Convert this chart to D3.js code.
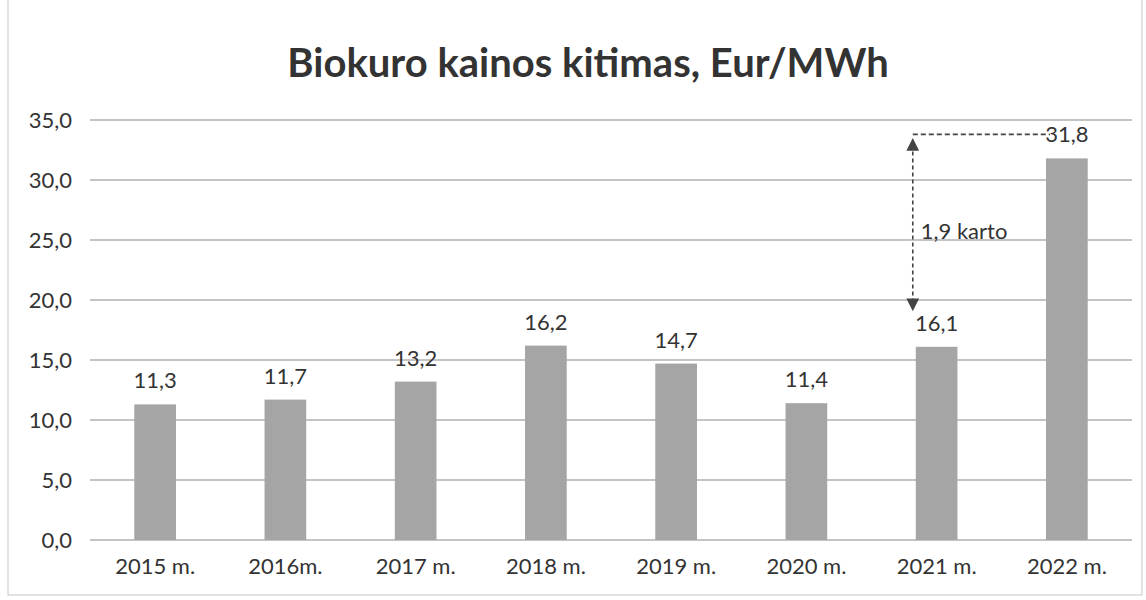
<!DOCTYPE html>
<html>
<head>
<meta charset="utf-8">
<script src="https://cdn.jsdelivr.net/npm/d3@7"></script>
<style>
  body { margin: 0; background: #fff; }
  text { font-family: Lato, "Open Sans", sans-serif; fill: #333; }
</style>
</head>
<body>
<div id="chart"></div>
<script>
// data
var years = ["2015 m.", "2016m.", "2017 m.", "2018 m.", "2019 m.", "2020 m.", "2021 m.", "2022 m."];
var prices = [11.3, 11.7, 13.2, 16.2, 14.7, 11.4, 16.1, 31.8];
var yTicks = [0, 5, 10, 15, 20, 25, 30, 35];
var ratioLabel = "1,9 karto";

var W = 1146, H = 600;
var margin = {top: 120, right: 14, bottom: 60, left: 90},
    width = W - margin.left - margin.right,
    height = H - margin.top - margin.bottom;

var fmt = function(v) { return v.toFixed(1).replace(".", ","); };

var root = d3.select("#chart")
    .append("svg")
    .attr("width", W)
    .attr("height", H);

// chart frame
root.append("rect")
    .attr("x", 8).attr("y", -2)
    .attr("width", 1134).attr("height", 597)
    .attr("fill", "none")
    .attr("stroke", "#c8c8c8")
    .attr("stroke-width", 1);

// title
root.append("text")
    .attr("x", 588)
    .attr("y", 77)
    .attr("text-anchor", "middle")
    .style("font-size", "40px")
    .style("font-weight", "bold")
    .text("Biokuro kainos kitimas, Eur/MWh");

var svg = root.append("g")
    .attr("transform", "translate(" + margin.left + "," + margin.top + ")");

var x = d3.scaleBand()
    .domain(years)
    .range([0, width])
    .paddingInner(0.68)
    .paddingOuter(0.34);

var y = d3.scaleLinear()
    .domain([0, 35])
    .range([height, 0]);

// gridlines
svg.append("g")
    .selectAll("line")
    .data(yTicks)
    .enter()
    .append("line")
    .attr("x1", 0)
    .attr("x2", width)
    .attr("y1", function(d) { return y(d); })
    .attr("y2", function(d) { return y(d); })
    .attr("stroke", "#b0b0b0")
    .attr("stroke-width", 1.3);

// Y axis
var yAxis = svg.append("g")
    .call(d3.axisLeft(y).tickValues(yTicks).tickFormat(fmt).tickSize(0).tickPadding(18));
yAxis.select(".domain").remove();
yAxis.selectAll("text").style("font-size", "22px").attr("fill", "#333");

// X axis
var xAxis = svg.append("g")
    .attr("transform", "translate(0," + height + ")")
    .call(d3.axisBottom(x).tickSize(0).tickPadding(18));
xAxis.select(".domain").remove();
xAxis.selectAll("text").style("font-size", "22px").attr("fill", "#333");

// bars
svg.selectAll("rect.bar")
    .data(prices)
    .enter()
    .append("rect")
    .attr("class", "bar")
    .attr("x", function(d, i) { return x(years[i]); })
    .attr("y", function(d) { return y(d); })
    .attr("width", x.bandwidth())
    .attr("height", function(d) { return height - y(d); })
    .attr("fill", "#a5a5a5");

// value labels
svg.selectAll("text.val")
    .data(prices)
    .enter()
    .append("text")
    .attr("class", "val")
    .attr("x", function(d, i) { return x(years[i]) + x.bandwidth() / 2; })
    .attr("y", function(d) { return y(d) - 16; })
    .attr("text-anchor", "middle")
    .style("font-size", "22px")
    .text(function(d) { return fmt(d); });

// annotation: 2021 -> 2022 growth
var n = prices.length;
var ax = x(years[n - 2]) - 3;
var yTop = y(prices[n - 1]) - 24;
var yBot = y(prices[n - 2]) - 32;

var defs = root.append("defs");
defs.append("marker")
    .attr("id", "tri")
    .attr("viewBox", "0 0 10 10")
    .attr("refX", 5).attr("refY", 5)
    .attr("markerWidth", 8).attr("markerHeight", 8)
    .attr("orient", "auto-start-reverse")
    .append("path")
    .attr("d", "M0,0 L10,5 L0,10 Z")
    .attr("fill", "#444");

svg.append("line")
    .attr("x1", ax).attr("x2", x(years[n - 1]) + 4)
    .attr("y1", yTop).attr("y2", yTop)
    .attr("stroke", "#444")
    .attr("stroke-width", 1.6)
    .attr("stroke-dasharray", "5,3");

svg.append("line")
    .attr("x1", ax).attr("x2", ax)
    .attr("y1", yTop + 10).attr("y2", yBot - 10)
    .attr("stroke", "#444")
    .attr("stroke-width", 1.6)
    .attr("stroke-dasharray", "4,3")
    .attr("marker-start", "url(#tri)")
    .attr("marker-end", "url(#tri)");

svg.append("text")
    .attr("x", ax + 8)
    .attr("y", (yTop + yBot) / 2 + 14)
    .style("font-size", "22px")
    .text(ratioLabel);
</script>
</body>
</html>
